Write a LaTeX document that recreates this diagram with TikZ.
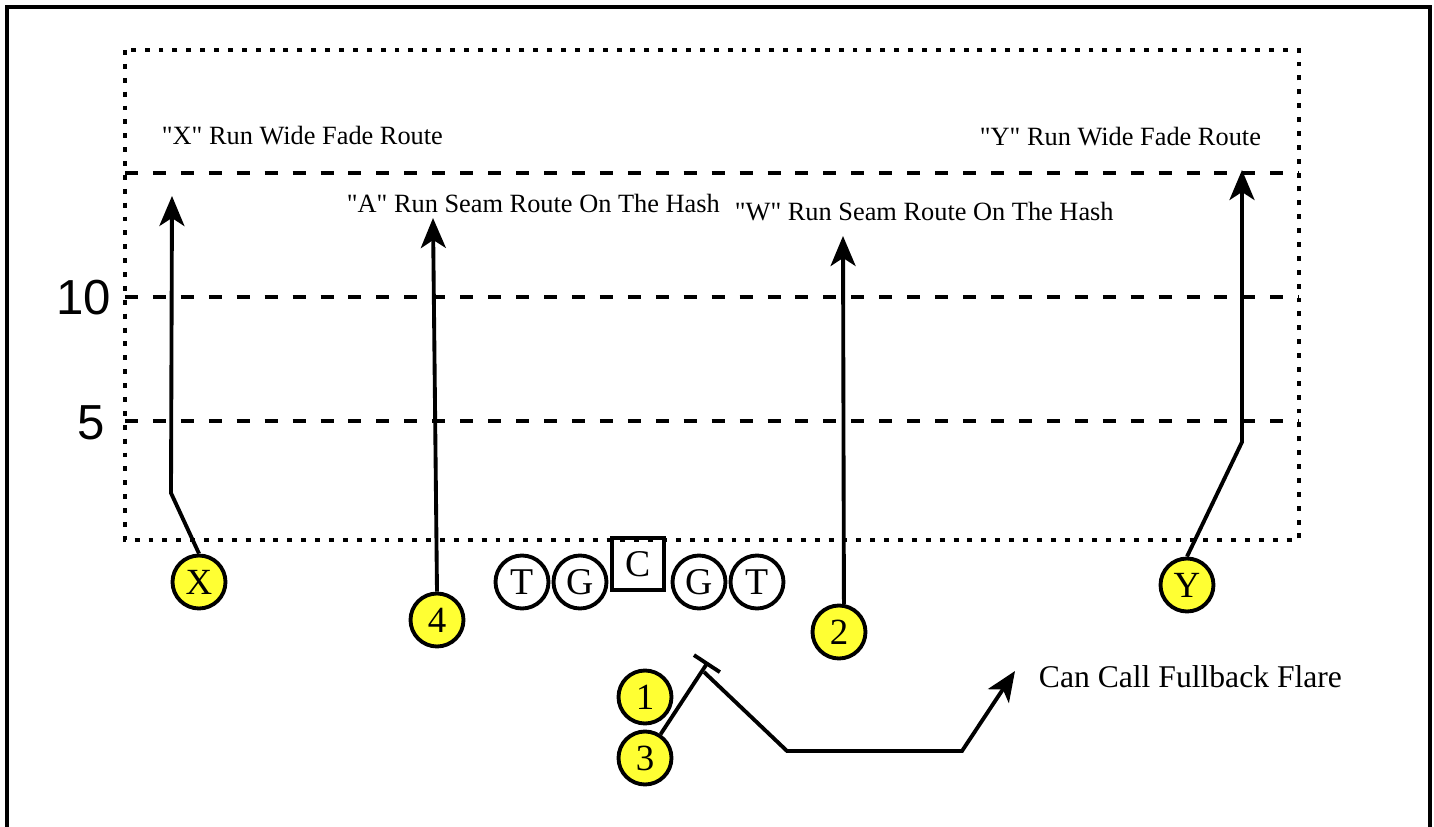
\documentclass[tikz,border=0pt]{standalone}
\usepackage{fontspec}
\setmainfont{Liberation Serif}[Ligatures=TeXOff]
\newfontfamily\yardfont{Liberation Sans}
\usetikzlibrary{arrows.meta}
\definecolor{playeryellow}{RGB}{255,255,51}

\begin{document}
\begin{tikzpicture}[x=0.02cm, y=-0.02cm, line width=2.2pt]
        \useasboundingbox (0,0) rectangle (1434,827);
        % field
        \draw (7,827) -- (7,7) -- (1430,7) -- (1430,827);
        \draw[dash pattern=on 2.8pt off 5.1pt] (125,50) rectangle (1299,540);
        \begin{scope}[dash pattern=on 7.4pt off 8.5pt]
            \draw (125,173) -- (1299,173);
            \draw (125,297) -- (1299,297);
            \draw (125,421) -- (1299,421);
        \end{scope}
        \begin{scope}[every node/.style={inner sep=0pt, anchor=base east, font=\yardfont\fontsize{28}{30}\selectfont}]
            \node (ten) at (113,315) {10};
            \node (five) at (107,440) {5};
        \end{scope}
        % route labels
        \begin{scope}[every node/.style={inner sep=0pt, anchor=base west, font=\fontsize{15}{17}\selectfont}]
            \node (xlabel) at (160,145) {"X" Run Wide Fade Route};
            \node (ylabel) at (978,146) {"Y" Run Wide Fade Route};
            \node (alabel) at (345,213) {"A" Run Seam Route On The Hash};
            \node (wlabel) at (733,221) {"W" Run Seam Route On The Hash};
            \node[font=\fontsize{18}{20}\selectfont] (flarelabel) at (1037,687) {Can Call Fullback Flare};
        \end{scope}
        % line
        \begin{scope}[every node/.style={draw, circle, line width=2.2pt, minimum size=1.06cm, inner sep=0pt, font=\fontsize{21.5}{23}\selectfont}]
            \node (lt) at (522,582) {T};
            \node (lg) at (580,582) {G};
            \node[rectangle, minimum size=1.04cm] (c) at (638,564) {C};
            \node (rg) at (699,582) {G};
            \node (rt) at (757,582) {T};
        \end{scope}
        % backs and receivers
        \begin{scope}[every node/.style={draw, circle, fill=playeryellow, line width=2.2pt, minimum size=1.06cm, inner sep=0pt, font=\fontsize{21}{23}\selectfont}]
            \node (X) at (199,582) {X};
            \node (Y) at (1187,585) {Y};
            \node (n4) at (437,620) {4};
            \node (n2) at (839,632) {2};
            \node (n1) at (645,697) {1};
            \node (n3) at (645,758) {3};
        \end{scope}
        \coordinate (blk) at (708,662);
        \coordinate (fb) at (704,672);
        \draw[-{Bar[width=0.62cm]}] (n3) -- (blk);
        \begin{scope}[every path/.style={-{Stealth[length=0.6cm, width=0.5cm, inset=0.16cm]}, line width=2.2pt}]
            \draw (X.north) -- (171,493) -- (172,196);
            \draw (n4.north) -- (433,218);
            \draw (n2.80) -- (843,236);
            \draw (Y.north) -- (1242,442) -- (1242,170);
            \draw (fb) -- (787,751) -- (962,751) -- (1015,671);
        \end{scope}
    \end{tikzpicture}
\end{document}
